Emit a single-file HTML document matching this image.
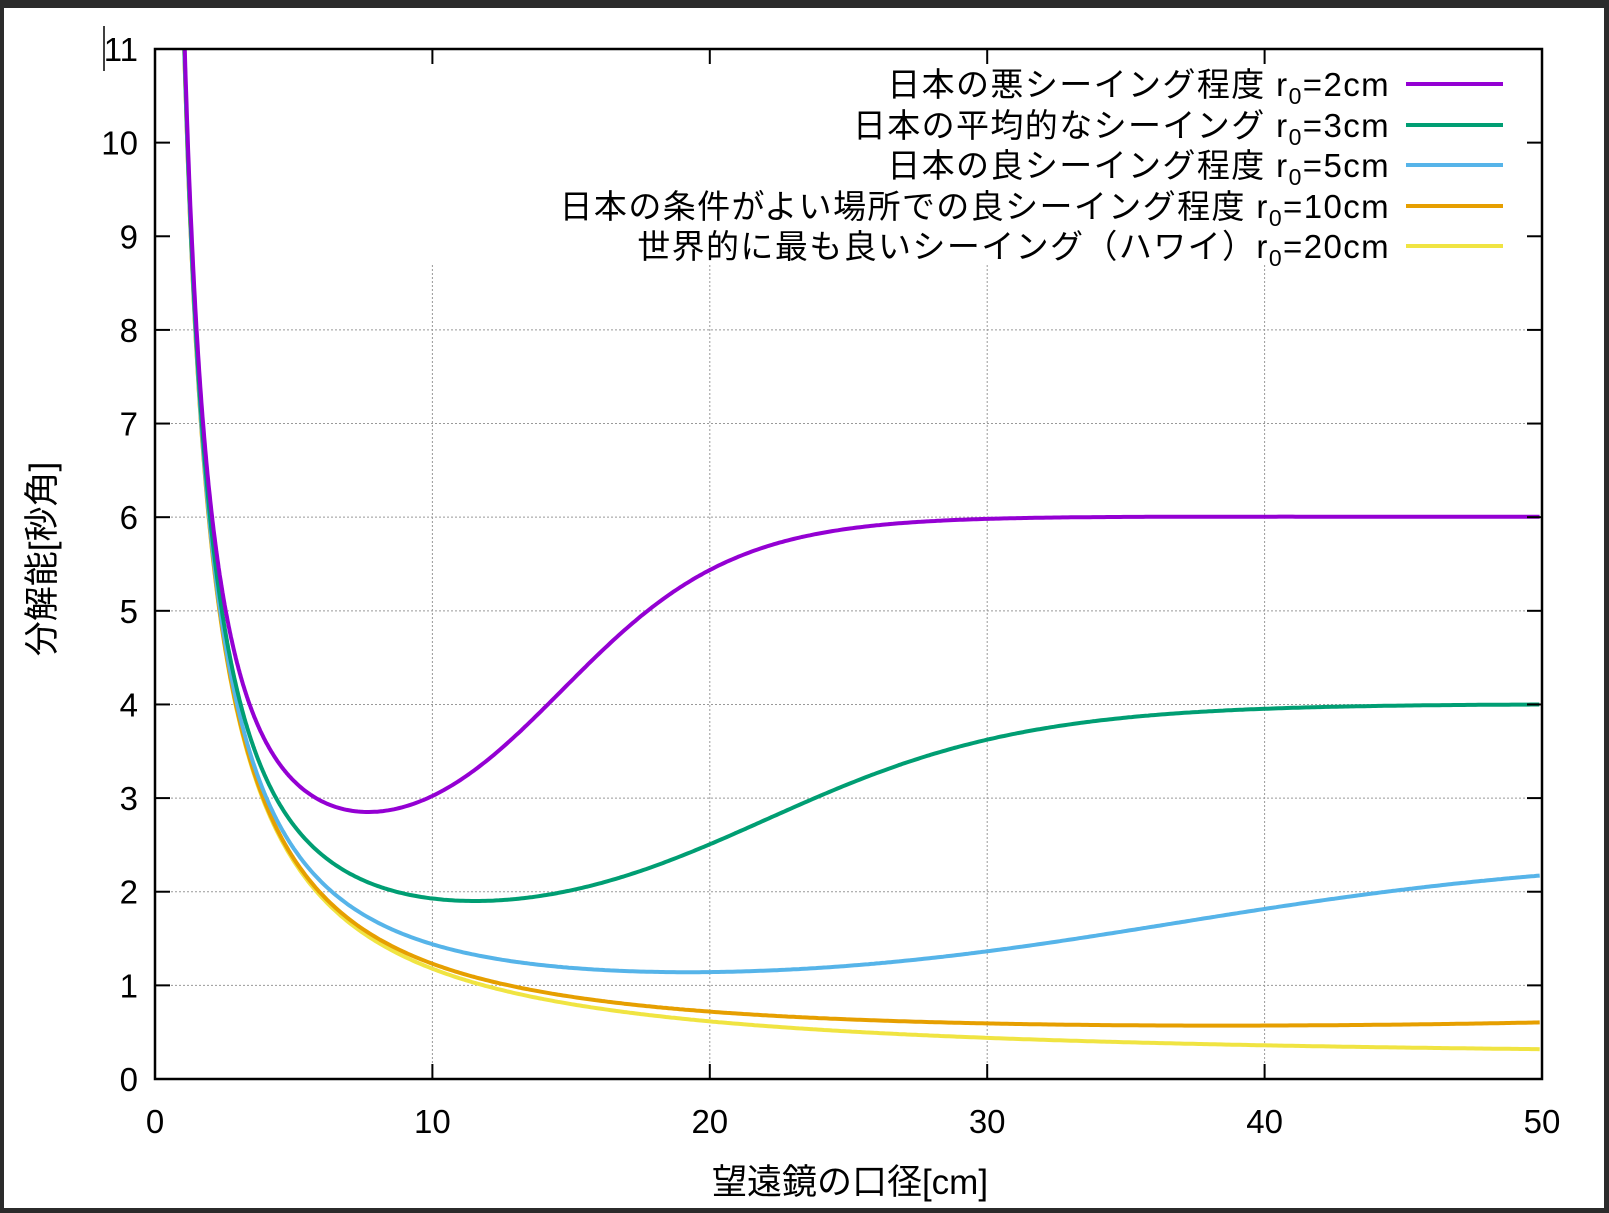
<!DOCTYPE html>
<html><head><meta charset="utf-8"><style>
html,body{margin:0;padding:0;background:#2b2b2b}
svg{display:block}
text{font-family:"Liberation Sans","Noto Sans CJK JP",sans-serif;fill:#000}
</style></head><body>
<svg id="s" width="1609" height="1213" viewBox="0 0 1609 1213" xmlns="http://www.w3.org/2000/svg">
<rect x="0" y="0" width="1609" height="1213" fill="#2b2b2b"/>
<rect x="4" y="8" width="1600" height="1200" fill="#fff"/>
<g id="grid" stroke="#999" stroke-width="1" stroke-dasharray="2,2"></g>
<g id="curves" fill="none" stroke-width="4" stroke-linejoin="round"></g>
<rect x="155" y="49" width="1387" height="1030" fill="none" stroke="#000" stroke-width="2.5"/>
<g id="ticks" stroke="#000" stroke-width="2"></g>
<g id="labels" font-size="33"></g>
<line x1="104" y1="26" x2="104" y2="71" stroke="#000" stroke-width="1.5"/>
<text x="850" y="1194" font-size="35" text-anchor="middle">望遠鏡の口径[cm]</text>
<text transform="translate(54,559) rotate(-90)" font-size="35" text-anchor="middle">分解能[秒角]</text>
<g id="legend" font-size="33" letter-spacing="1.4" text-anchor="end"></g>
</svg>
<script>
var L=155,R=1542,T=49,B=1079;
function X(d){return L+(R-L)*d/50}
function Y(v){return B-(B-T)*v/11}
var ns="http://www.w3.org/2000/svg";
function el(p,n,a,t){var e=document.createElementNS(ns,n);for(var k in a)e.setAttribute(k,a[k]);if(t!=null)e.textContent=t;document.getElementById(p).appendChild(e);return e}
for(var i=1;i<=8;i++){el("grid","line",{x1:L,x2:R,y1:Y(i),y2:Y(i)})}
for(var i=10;i<=40;i+=10){el("grid","line",{x1:X(i),x2:X(i),y1:265,y2:B})}
for(var i=0;i<=11;i++){var y=Y(i);el("ticks","line",{x1:L,x2:L+15,y1:y,y2:y});el("ticks","line",{x1:R-15,x2:R,y1:y,y2:y});
 el("labels","text",{x:138,y:y+12,"text-anchor":"end"},String(i))}
for(var i=0;i<=50;i+=10){var x=X(i);el("ticks","line",{x1:x,x2:x,y1:B,y2:B-15});el("ticks","line",{x1:x,x2:x,y1:T,y2:T+15});
 el("labels","text",{x:x,y:1133,"text-anchor":"middle"},String(i))}
var ser=[[2,"#9400d3"],[3,"#009e73"],[5,"#56b4e9"],[10,"#e69f00"],[20,"#f0e442"]];
function f(D,r0){var S=12/r0,c=7.2*r0,w=1.6*r0,d=11.6/D,Lg=1/(1+Math.exp(-(D-c)/w)),s=S*(0.33+0.67*Lg);return Math.sqrt(d*d+s*s)}
for(var k=ser.length-1;k>=0;k--){var r0=ser[k][0],pts=[];
 var D0=1.0;while(f(D0,r0)>11)D0+=0.002;
 pts.push(X(D0).toFixed(1)+","+Y(f(D0,r0)).toFixed(1));
 for(var D=D0+0.02;D<=50.001;D+=(D<5?0.02:0.1)){pts.push(X(D).toFixed(1)+","+Y(f(D,r0)).toFixed(1))}
 el("curves","polyline",{points:pts.join(" "),stroke:ser[k][1]})}
var leg=[["日本の悪シーイング程度 r","=2cm"],["日本の平均的なシーイング r","=3cm"],["日本の良シーイング程度 r","=5cm"],["日本の条件がよい場所での良シーイング程度 r","=10cm"],["世界的に最も良いシーイング（ハワイ）r","=20cm"]];
var ly=[84,125,165,206,246];
for(var i=0;i<5;i++){var t=el("legend","text",{x:1390,y:ly[i]+12});
 var a=document.createElementNS(ns,"tspan");a.textContent=leg[i][0];t.appendChild(a);
 var b=document.createElementNS(ns,"tspan");b.setAttribute("font-size","23");b.setAttribute("dy","8");b.textContent="0";t.appendChild(b);
 var c2=document.createElementNS(ns,"tspan");c2.setAttribute("dy","-8");c2.textContent=leg[i][1];t.appendChild(c2);
 el("legend","line",{x1:1406,x2:1503,y1:ly[i],y2:ly[i],stroke:ser[i][1],"stroke-width":4})}
</script>
</body></html>
